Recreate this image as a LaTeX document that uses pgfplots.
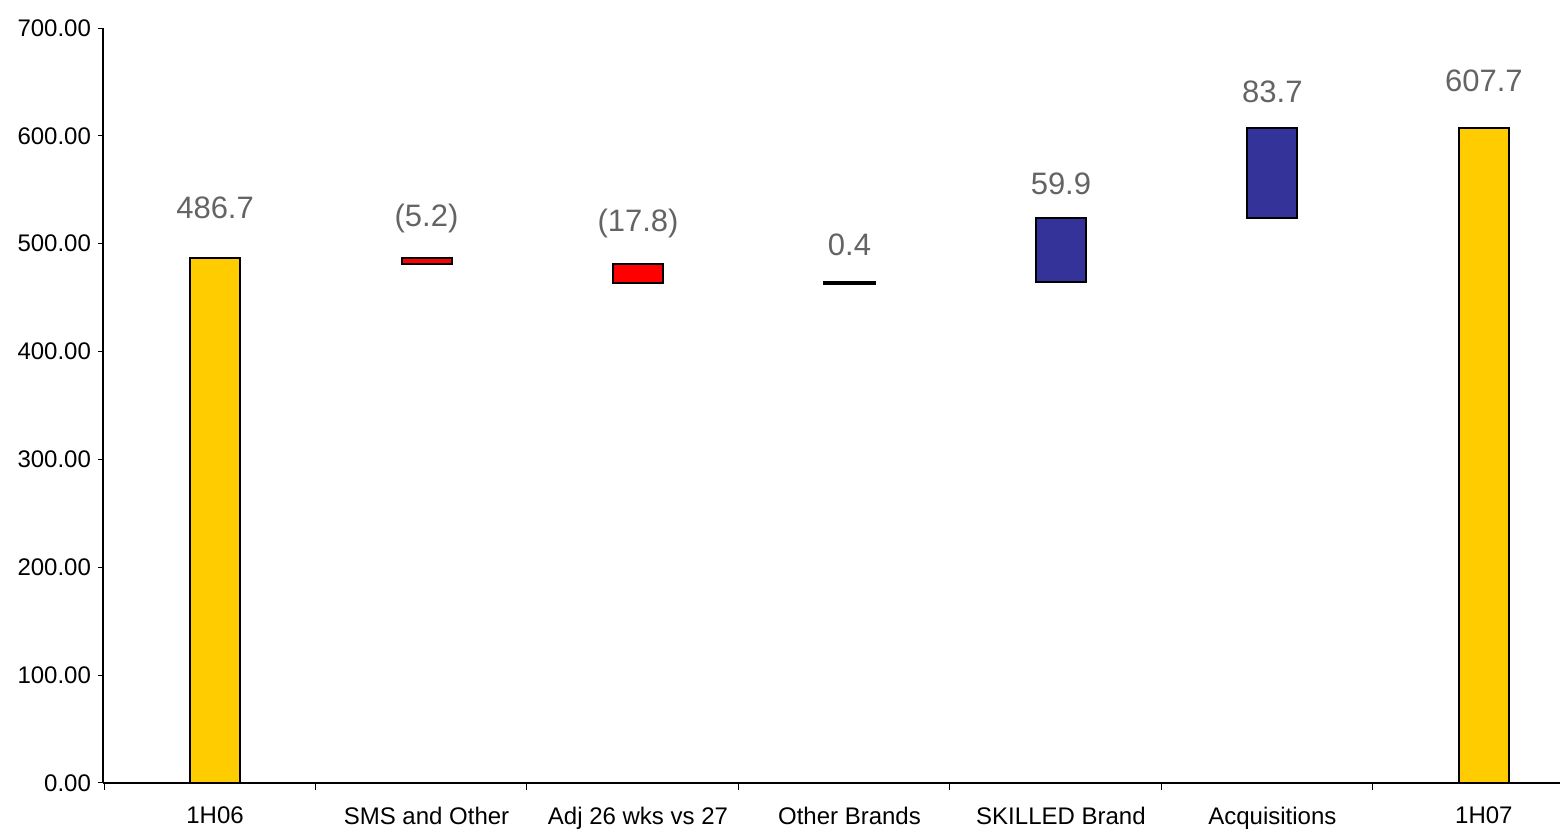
\documentclass[border=0pt]{standalone}
\usepackage{pgfplots}
\pgfplotsset{compat=1.18}
\usepackage{fontspec}
\setmainfont{Liberation Sans}
\definecolor{wfgold}{RGB}{255,204,0}
\definecolor{wfred}{RGB}{255,0,0}
\definecolor{wfblue}{RGB}{51,51,153}
\definecolor{lblgray}{RGB}{100,100,100}

\pgfplotsset{
  wfbase/.style={
    at={(0pt,0pt)}, anchor=south west,
    scale only axis,
    width=728.5pt, height=377.5pt,
    xmin=-0.53, xmax=6.36,
    ymin=0, ymax=700,
    clip=false,
  },
  wfbars/.style={
    wfbase,
    ybar stacked,
    bar width=0.236,
  },
  wfval/.style={draw=black, line width=1pt, fill=#1},
}

\begin{document}
\begin{tikzpicture}
\path[use as bounding box] (-51.5pt,-23.5pt) rectangle (728.5pt,391.5pt);
% gold totals (with the visible axes)
\begin{axis}[
  wfbars,
  axis x line=bottom, axis y line=left,
  axis line style={-, black, line width=0.6pt},
  xtick={0,...,6},
  xticklabels={1H06, SMS and Other, Adj 26 wks vs 27, Other Brands, SKILLED Brand, Acquisitions, 1H07},
  minor xtick={-0.525,0.475,...,5.475},
  major x tick style={draw=none},
  minor x tick style={black, line width=0.5pt},
  minor tick length=3.5pt,
  ytick={0,100,...,700},
  y tick style={black, line width=0.5pt},
  major tick length=2.5pt,
  tick align=outside,
  yticklabel style={/pgf/number format/.cd, fixed, fixed zerofill, precision=2, assume math mode=true},
  tick label style={font=\fontsize{12}{14}\selectfont, black},
  xticklabel style={yshift=-6pt},
]
\addplot[draw=none, fill=none] coordinates {(0,0) (6,0)};
\addplot[wfval=wfgold] coordinates {(0,486.7) (6,607.7)};
\end{axis}
% red decreases
\begin{axis}[wfbars, hide axis]
\addplot[draw=none, fill=none] coordinates {(1,481.5) (2,463.7)};
\addplot[wfval=wfred] coordinates {(1,5.2) (2,17.8)};
\end{axis}
% blue increases
\begin{axis}[wfbars, hide axis]
\addplot[draw=none, fill=none] coordinates {(4,464.1) (5,524.0)};
\addplot[wfval=wfblue] coordinates {(4,59.9) (5,83.7)};
\end{axis}
% tiny increase (Other Brands)
\begin{axis}[wfbars, hide axis]
\addplot[draw=none, fill=none] coordinates {(3,463.7)};
\addplot[wfval=wfblue, line width=1.7pt] coordinates {(3,0.4)};
\end{axis}
% value labels
\begin{axis}[wfbase, hide axis]
\addplot[only marks, mark=none, nodes near coords, point meta=explicit symbolic,
  every node near coord/.style={anchor=base, inner sep=0pt, text=lblgray, font=\fontsize{15.5}{18}\selectfont}]
  coordinates {
    (0,523.8) [486.7]
    (1,516.4) [(5.2)]
    (2,511.2) [(17.8)]
    (3,489.1) [0.4]
    (4,545.3) [59.9]
    (5,630.9) [83.7]
    (6,641.1) [607.7]
  };
\end{axis}
\end{tikzpicture}
\end{document}
